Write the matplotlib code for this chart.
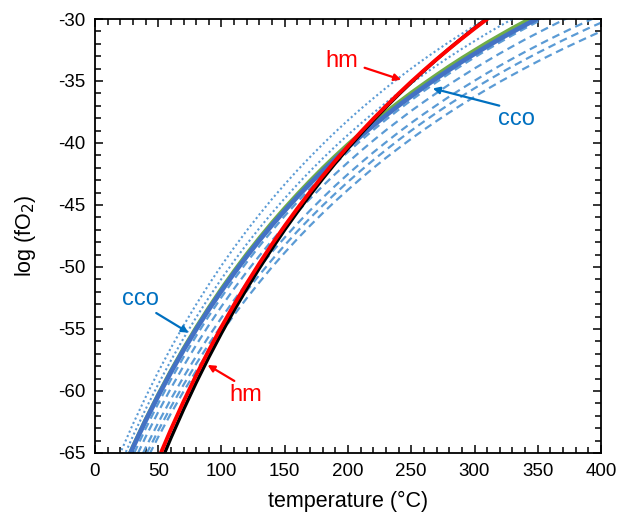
import numpy as np
import matplotlib
matplotlib.use("Agg")
import matplotlib.pyplot as plt
from matplotlib.ticker import MultipleLocator

plt.rcParams['font.family'] = ['Liberation Sans', 'DejaVu Sans']
plt.rcParams['axes.unicode_minus'] = False

# temperature grid (degC), shared by every curve
temp = list(range(0, 401, 10))

# log fO2
hm_red = [-80.06, -76.73, -73.63, -70.74, -68.03, -65.49, -63.10, -60.85, -58.73, -56.72, -54.82,
          -53.03, -51.32, -49.70, -48.15, -46.68, -45.28, -43.94, -42.66, -41.43, -40.26, -39.13,
          -38.05, -37.02, -36.02, -35.06, -34.14, -33.25, -32.40, -31.57, -30.77, -30.00, -29.26,
          -28.54, -27.85, -27.17, -26.52, -25.89, -25.28, -24.68, -24.11]
hm_black = [-81.15, -77.75, -74.58, -71.62, -68.84, -66.24, -63.80, -61.50, -59.33, -57.28, -55.34,
            -53.49, -51.75, -50.09, -48.51, -47.00, -45.57, -44.20, -42.89, -41.63, -40.43, -39.28,
            -38.18, -37.12, -36.10, -35.12, -34.18, -33.27, -32.39, -31.55, -30.73, -29.95, -29.19,
            -28.45, -27.74, -27.05, -26.38, -25.74, -25.11, -24.50, -23.91]
cco_blue = [-71.96, -69.32, -66.85, -64.56, -62.40, -60.39, -58.49, -56.70, -55.02, -53.42, -51.92,
            -50.49, -49.13, -47.84, -46.61, -45.45, -44.33, -43.27, -42.25, -41.28, -40.34, -39.45,
            -38.59, -37.77, -36.98, -36.22, -35.49, -34.78, -34.10, -33.44, -32.81, -32.20, -31.61,
            -31.04, -30.49, -29.95, -29.43, -28.93, -28.45, -27.97, -27.52]
cco_green = [-71.89, -69.23, -66.75, -64.44, -62.28, -60.25, -58.34, -56.54, -54.84, -53.24, -51.72,
             -50.29, -48.92, -47.63, -46.39, -45.22, -44.10, -43.03, -42.00, -41.02, -40.08, -39.19,
             -38.32, -37.49, -36.70, -35.93, -35.20, -34.49, -33.80, -33.14, -32.51, -31.89, -31.30,
             -30.72, -30.17, -29.63, -29.11, -28.60, -28.11, -27.64, -27.18]
dotted = [
    [-70.16, -67.49, -65.00, -62.67, -60.50, -58.45, -56.53, -54.72, -53.02, -51.41, -49.88,
     -48.43, -47.06, -45.76, -44.51, -43.33, -42.20, -41.13, -40.10, -39.11, -38.17, -37.26,
     -36.40, -35.56, -34.76, -33.99, -33.25, -32.54, -31.85, -31.19, -30.55, -29.93, -29.33,
     -28.75, -28.19, -27.65, -27.13, -26.62, -26.13, -25.65, -25.19],
    [-71.06, -68.41, -65.94, -63.63, -61.47, -59.45, -57.54, -55.75, -54.06, -52.46, -50.95,
     -49.51, -48.15, -46.86, -45.63, -44.46, -43.34, -42.27, -41.25, -40.27, -39.34, -38.44,
     -37.58, -36.75, -35.96, -35.20, -34.46, -33.75, -33.07, -32.41, -31.78, -31.16, -30.57,
     -30.00, -29.44, -28.91, -28.39, -27.88, -27.40, -26.92, -26.46],
]
dashed = [
    [-72.71, -70.03, -67.54, -65.22, -63.04, -61.00, -59.08, -57.27, -55.56, -53.95, -52.43,
     -50.98, -49.61, -48.31, -47.07, -45.88, -44.76, -43.68, -42.65, -41.66, -40.72, -39.82,
     -38.95, -38.12, -37.32, -36.55, -35.81, -35.09, -34.40, -33.74, -33.10, -32.48, -31.89,
     -31.31, -30.75, -30.21, -29.68, -29.18, -28.68, -28.21, -27.74],
    [-73.31, -70.66, -68.18, -65.88, -63.71, -61.69, -59.78, -57.99, -56.29, -54.69, -53.18,
     -51.74, -50.38, -49.09, -47.85, -46.68, -45.56, -44.49, -43.47, -42.49, -41.56, -40.66,
     -39.80, -38.97, -38.18, -37.41, -36.68, -35.97, -35.28, -34.63, -33.99, -33.38, -32.78,
     -32.21, -31.65, -31.12, -30.60, -30.09, -29.61, -29.13, -28.67],
    [-74.14, -71.49, -69.03, -66.73, -64.58, -62.56, -60.66, -58.87, -57.19, -55.59, -54.09,
     -52.66, -51.30, -50.01, -48.78, -47.62, -46.50, -45.44, -44.42, -43.44, -42.51, -41.62,
     -40.76, -39.94, -39.14, -38.38, -37.65, -36.95, -36.26, -35.61, -34.98, -34.36, -33.77,
     -33.20, -32.65, -32.12, -31.60, -31.10, -30.61, -30.14, -29.68],
    [-74.76, -72.12, -69.66, -67.36, -65.21, -63.19, -61.29, -59.50, -57.81, -56.22, -54.71,
     -53.28, -51.92, -50.63, -49.41, -48.24, -47.12, -46.06, -45.04, -44.07, -43.13, -42.24,
     -41.38, -40.56, -39.76, -39.00, -38.27, -37.56, -36.88, -36.23, -35.59, -34.98, -34.39,
     -33.82, -33.27, -32.73, -32.22, -31.71, -31.23, -30.75, -30.30],
    [-75.22, -72.60, -70.15, -67.86, -65.72, -63.71, -61.82, -60.04, -58.37, -56.78, -55.28,
     -53.86, -52.51, -51.23, -50.00, -48.84, -47.73, -46.67, -45.66, -44.69, -43.77, -42.88,
     -42.02, -41.20, -40.42, -39.66, -38.93, -38.23, -37.55, -36.90, -36.27, -35.66, -35.07,
     -34.51, -33.96, -33.42, -32.91, -32.41, -31.93, -31.46, -31.00],
]

LIGHT = '#5B9BD5'
BLUE = '#4472C4'
GREEN = '#70AD47'
LABEL_BLUE = '#0070C0'

fig = plt.figure(figsize=(6.18, 5.22), dpi=100)
ax = fig.add_axes([0.1537, 0.1322, 0.8188, 0.8314])

for d in dashed:
    ax.plot(temp, d, color=LIGHT, lw=1.6, linestyle=(0, (3.5, 2.2)))
for d in dotted:
    ax.plot(temp, d, color=LIGHT, lw=1.5, linestyle=(0, (1, 1.3)))
ax.plot(temp, cco_green, color=GREEN, lw=2.6)
ax.plot(temp, cco_blue, color=BLUE, lw=3.4)
ax.plot(temp, hm_black, color='black', lw=2.4)
ax.plot(temp, hm_red, color='#FF0000', lw=2.8)

ax.set_xlim(0, 400)
ax.set_ylim(-65, -30)
ax.xaxis.set_major_locator(MultipleLocator(50))
ax.xaxis.set_minor_locator(MultipleLocator(10))
ax.yaxis.set_major_locator(MultipleLocator(5))
ax.yaxis.set_minor_locator(MultipleLocator(1))
ax.tick_params(which='both', direction='in', top=True, right=True, labelsize=13.5, width=1.1)
ax.tick_params(which='major', length=6, pad=7)
ax.tick_params(which='minor', length=4)
for s in ax.spines.values():
    s.set_linewidth(1.3)

ax.set_xlabel('temperature (°C)', fontsize=15.5, labelpad=8)
ax.set_ylabel('log (fO$_2$)', fontsize=15.5, labelpad=14)

arr = dict(arrowstyle='-|>', lw=1.6, mutation_scale=10, shrinkA=0, shrinkB=0)
ax.annotate('hm', xy=(242, -34.9), xytext=(195, -33.4), color='#FF0000', fontsize=17,
            ha='center', va='center', arrowprops=dict(arr, color='#FF0000', relpos=(1.2, 0.2)))
ax.annotate('hm', xy=(89, -57.9), xytext=(119, -60.3), color='#FF0000', fontsize=17,
            ha='center', va='center', arrowprops=dict(arr, color='#FF0000', relpos=(0.3, 1.0)))
ax.annotate('cco', xy=(267, -35.6), xytext=(333, -38.1), color=LABEL_BLUE, fontsize=17,
            ha='center', va='center', arrowprops=dict(arr, color=LABEL_BLUE, relpos=(0.1, 1.1)))
ax.annotate('cco', xy=(74, -55.3), xytext=(36, -52.6), color=LABEL_BLUE, fontsize=17,
            ha='center', va='center', arrowprops=dict(arr, color=LABEL_BLUE, relpos=(0.9, -0.1)))

fig.savefig('out.png', dpi=100)
